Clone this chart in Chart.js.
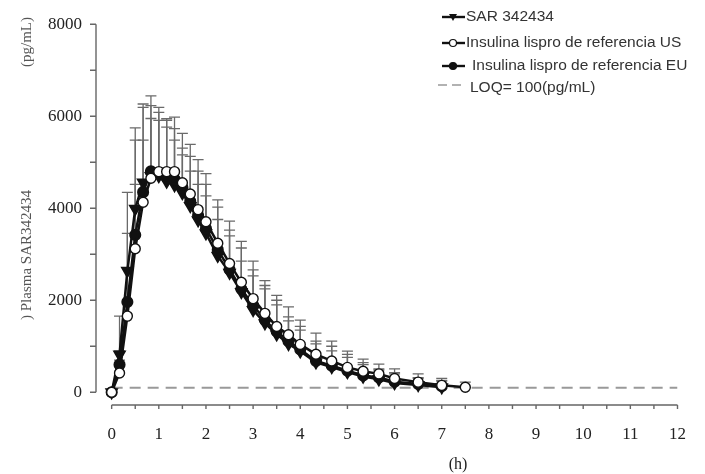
<!DOCTYPE html>
<html>
<head>
<meta charset="utf-8">
<script src="https://cdn.jsdelivr.net/npm/chart.js@4.4.1/dist/chart.umd.min.js"></script>
<style>
  html, body { margin:0; padding:0; background:#fff; }
  #wrap { width:705px; height:474px; }
</style>
</head>
<body>
<div id="wrap"><canvas id="pkChart" width="705" height="474"></canvas></div>
<script>
// sampling times (h)
const times = [0, 0.167, 0.333, 0.5, 0.667, 0.833, 1, 1.167, 1.333, 1.5, 1.667, 1.833, 2, 2.25, 2.5, 2.75, 3, 3.25, 3.5, 3.75, 4, 4.333, 4.667, 5, 5.333, 5.667, 6, 6.5, 7, 7.5];

// mean concentrations (pg/mL) and SD (upper bars only)
const sarMean = [0, 820, 2640, 3990, 4560, 4700, 4700, 4580, 4500, 4330, 4050, 3740, 3455, 2965, 2600, 2180, 1790, 1500, 1260, 1050, 890, 650, 550, 440, 340, 280, 200, 160, 110, null];
const sarSD   = [0, 835, 1705, 1755, 1705, 1740, 1210, 1185, 980, 830, 755, 780, 815, 790, 800, 670, 740, 745, 640, 500, 460, 400, 350, 320, 260, 200, 200, 140, 130, null];
const usMean  = [0, 420, 1655, 3120, 4130, 4650, 4795, 4795, 4795, 4555, 4310, 3970, 3705, 3240, 2800, 2390, 2035, 1715, 1430, 1250, 1040, 825, 680, 540, 455, 400, 300, 220, 150, 110];
const usSD    = [0, 280, 1045, 1400, 1350, 1300, 1395, 1150, 1185, 1070, 1080, 1085, 1045, 940, 920, 890, 815, 710, 675, 605, 530, 460, 430, 355, 265, 210, 210, 180, 150, 110];
const euMean  = [0, 600, 1960, 3420, 4350, 4805, 4750, 4665, 4630, 4450, 4150, 3845, 3560, 3100, 2670, 2245, 1890, 1570, 1320, 1110, 930, 680, 575, 470, 365, 320, 230, 180, 130, null];
const euSD    = [0, 300, 1495, 2060, 1840, 1425, 1335, 1245, 1100, 855, 975, 960, 960, 925, 855, 890, 770, 750, 680, 530, 500, 430, 425, 355, 280, 185, 195, 140, 125, null];

const loqValue = 100;
const loqRange = [0, 12];

const seriesNames = ["SAR 342434", "Insulina lispro de referencia US", "Insulina lispro de referencia EU", "LOQ= 100(pg/mL)"];
const yTicks = [0, 2000, 4000, 6000, 8000];
const xTicks = [0, 1, 2, 3, 4, 5, 6, 7, 8, 9, 10, 11, 12];

const serif = "'Liberation Serif', 'DejaVu Serif', serif";
const sans = "'Liberation Sans', Arial, sans-serif";

function pts(means){
  return times.map((t,i)=>({x:t, y:means[i]}));
}

// error bars (upward), drawn behind the lines
const errorBars = {
  id:'errorBars',
  beforeDatasetsDraw(chart){
    const ctx = chart.ctx, xs = chart.scales.x, ys = chart.scales.y;
    const sets = [[sarMean,sarSD],[usMean,usSD],[euMean,euSD]];
    ctx.save();
    ctx.strokeStyle = '#6a6a6a';
    ctx.lineWidth = 1.3;
    sets.forEach(([m,sd])=>{
      times.forEach((t,i)=>{
        if(m[i]==null || !sd[i]) return;
        const x = xs.getPixelForValue(t);
        const y0 = ys.getPixelForValue(m[i]);
        const y1 = ys.getPixelForValue(m[i]+sd[i]);
        ctx.beginPath();
        ctx.moveTo(x,y0); ctx.lineTo(x,y1);
        ctx.moveTo(x-5.5,y1); ctx.lineTo(x+5.5,y1);
        ctx.stroke();
      });
    });
    ctx.restore();
  }
};

// axis lines, tick marks, titles and legend
const decor = {
  id:'decor',
  afterDraw(chart){
    const ctx = chart.ctx, xs = chart.scales.x, ys = chart.scales.y;
    const area = chart.chartArea;
    ctx.save();
    ctx.strokeStyle = '#666';
    ctx.lineWidth = 1.4;
    // y axis
    const ax = area.left;
    ctx.beginPath();
    ctx.moveTo(ax, ys.getPixelForValue(8000));
    ctx.lineTo(ax, ys.getPixelForValue(0));
    for(let v=0; v<=8000; v+=1000){
      const y = ys.getPixelForValue(v);
      ctx.moveTo(ax-6, y); ctx.lineTo(ax, y);
    }
    ctx.stroke();
    // x axis
    const ay = area.bottom;
    ctx.beginPath();
    ctx.moveTo(xs.getPixelForValue(0), ay);
    ctx.lineTo(xs.getPixelForValue(12), ay);
    for(let t=0; t<=12; t+=0.5){
      const x = xs.getPixelForValue(t);
      ctx.moveTo(x, ay); ctx.lineTo(x, ay+4);
    }
    ctx.stroke();

    // axis titles
    ctx.fillStyle = '#555';
    ctx.font = '15px ' + serif;
    ctx.textAlign = 'center';
    ctx.textBaseline = 'middle';
    ctx.save();
    ctx.translate(27, 42); ctx.rotate(-Math.PI/2);
    ctx.fillText('(pg/mL)', 0, 0);
    ctx.restore();
    ctx.save();
    ctx.translate(27, 255); ctx.rotate(-Math.PI/2);
    ctx.fillText(') Plasma SAR342434', 0, 0);
    ctx.restore();
    ctx.fillStyle = '#222';
    ctx.font = '16px ' + serif;
    ctx.fillText('(h)', 458, 465);

    // legend
    const rows = [17, 43, 66, 88];
    ctx.font = '15.5px ' + sans;
    ctx.textAlign = 'left';
    ctx.fillStyle = '#333';
    rows.forEach((y,i)=>{
      if(i<3){
        ctx.strokeStyle = '#111';
        ctx.lineWidth = 2.4;
        ctx.beginPath(); ctx.moveTo(442,y); ctx.lineTo(465,y); ctx.stroke();
        ctx.lineWidth = 1.2;
        if(i===0){
          ctx.fillStyle = '#111';
          ctx.beginPath(); ctx.moveTo(449,y-3); ctx.lineTo(457,y-3); ctx.lineTo(453,y+4); ctx.closePath(); ctx.fill();
        } else {
          ctx.fillStyle = i===1 ? '#fff' : '#111';
          ctx.beginPath(); ctx.arc(453,y,3.5,0,Math.PI*2); ctx.fill(); ctx.stroke();
        }
        ctx.fillStyle = '#333';
        ctx.fillText(seriesNames[i], i===2 ? 472 : 466, y);
      } else {
        ctx.strokeStyle = '#999';
        ctx.lineWidth = 1.5;
        ctx.setLineDash([9,5]);
        ctx.beginPath(); ctx.moveTo(438,y-3); ctx.lineTo(461,y-3); ctx.stroke();
        ctx.setLineDash([]);
        ctx.fillText(seriesNames[i], 470, y);
      }
    });
    ctx.restore();
  }
};

new Chart(document.getElementById('pkChart'), {
  type:'line',
  data:{
    datasets:[
      { label:seriesNames[1], data:pts(usMean), borderColor:'#111', borderWidth:2.5,
        pointStyle:'circle', pointRadius:5, pointBackgroundColor:'#fff', pointBorderColor:'#111', pointBorderWidth:1.4 },
      { label:seriesNames[2], data:pts(euMean), borderColor:'#111', borderWidth:2.5,
        pointStyle:'circle', pointRadius:4.8, pointBackgroundColor:'#111', pointBorderColor:'#111' },
      { label:seriesNames[0], data:pts(sarMean), borderColor:'#111', borderWidth:2.5,
        pointStyle:'triangle', pointRotation:180, pointRadius:5.5, pointBackgroundColor:'#111', pointBorderColor:'#111' },
      { label:seriesNames[3], data:loqRange.map(t=>({x:t, y:loqValue})), borderColor:'#999', borderWidth:2,
        borderDash:[11,7], pointRadius:0 }
    ]
  },
  options:{
    responsive:false,
    animation:false,
    events:[],
    layout:{ padding:{ top:17, right:15, left:0, bottom:0 } },
    plugins:{ legend:{display:false}, tooltip:{enabled:false} },
    scales:{
      x:{
        type:'linear', min:-0.332, max:12,
        grid:{display:false, drawTicks:false}, border:{display:false},
        afterBuildTicks: s => { s.ticks = xTicks.map(v=>({value:v})); },
        afterFit: s => { s.height = 69; },
        ticks:{ autoSkip:false, maxRotation:0, padding:19, color:'#222',
          font:{ family:serif, size:17 }, callback: v => String(v) }
      },
      y:{
        type:'linear', min:-277, max:8000,
        grid:{display:false, drawTicks:false}, border:{display:false},
        afterBuildTicks: s => { s.ticks = yTicks.map(v=>({value:v})); },
        afterFit: s => { s.width = 96; },
        ticks:{ padding:14, color:'#222', font:{ family:serif, size:17 }, callback: v => String(v) }
      }
    }
  },
  plugins:[errorBars, decor]
});
</script>
</body>
</html>
